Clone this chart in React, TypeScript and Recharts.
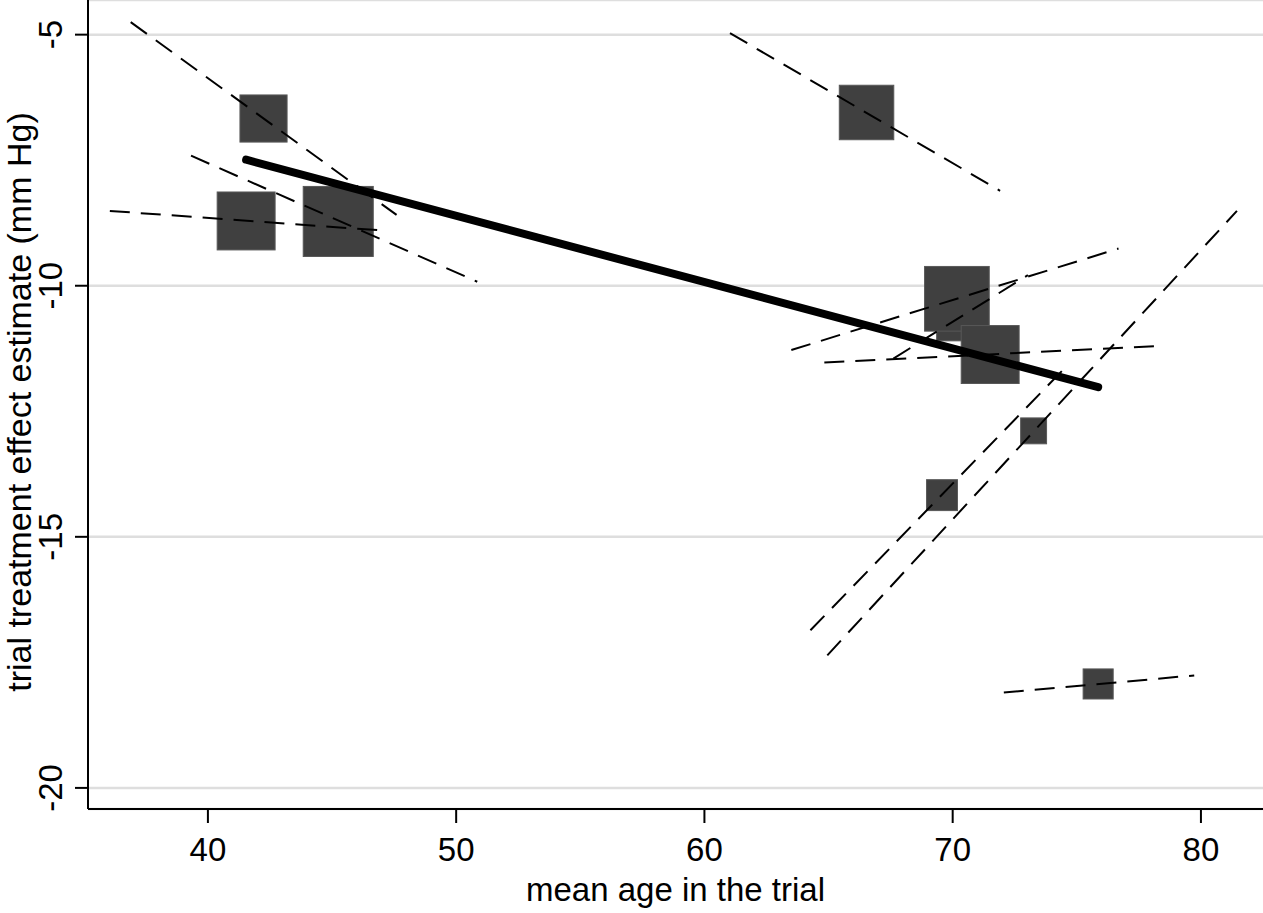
import {
  ScatterChart,
  Scatter,
  XAxis,
  YAxis,
  ZAxis,
  CartesianGrid,
  Label,
} from 'recharts'

// one entry per trial: mean age, effect estimate, weight (% of total, drawn as square area)
const trialAge = [42.24, 41.54, 45.25, 66.53, 70.32, 70.17, 71.51, 69.57, 73.26, 75.86]
const trialEffect = [-6.67, -8.71, -8.72, -6.55, -10.62, -10.26, -11.37, -14.17, -12.89, -17.93]
const trialWeight = [8.6, 13.0, 19.0, 11.5, 8.9, 16.2, 13.0, 3.7, 2.6, 3.5]

// within-trial slopes (dashed), start and end of each segment
const slopeAgeFrom = [36.89, 36.05, 39.32, 61.03, 67.61, 63.5, 64.83, 64.27, 64.95, 72.06]
const slopeEffectFrom = [-4.75, -8.51, -7.41, -4.97, -11.45, -11.28, -11.53, -16.86, -17.36, -18.1]
const slopeAgeTo = [47.6, 47.04, 50.85, 71.91, 73.03, 76.68, 78.27, 74.63, 81.45, 79.73]
const slopeEffectTo = [-8.59, -8.9, -9.92, -8.11, -9.79, -9.26, -11.2, -11.58, -8.51, -17.76]

// across-trial meta-regression line
const regressionAge = [41.54, 75.86]
const regressionEffect = [-7.49, -12.02]

const xTicks = [40, 50, 60, 70, 80]
const yTicks = [-20, -15, -10, -5]

const FONT = '"Liberation Sans", Arial, Helvetica, sans-serif'

const trials = trialAge.map((age, i) => ({
  age,
  effect: trialEffect[i],
  weight: trialWeight[i],
}))

const slopes = slopeAgeFrom.map((a, i) => [
  { age: a, effect: slopeEffectFrom[i] },
  { age: slopeAgeTo[i], effect: slopeEffectTo[i] },
])

const regression = regressionAge.map((age, i) => ({ age, effect: regressionEffect[i] }))

function TrialSquare(props: any) {
  const { cx, cy, width, size } = props
  const side = width ?? 2 * Math.sqrt(size / Math.PI)
  return (
    <rect
      x={cx - side / 2}
      y={cy - side / 2}
      width={side}
      height={side}
      fill="#404040"
      stroke="#585858"
      strokeWidth={1}
    />
  )
}

function NoPoint() {
  return <g />
}

function XTick({ x, y, payload }: any) {
  return (
    <text x={x} y={y} dy={38} textAnchor="middle" fontFamily={FONT} fontSize={33} fill="#000">
      {payload.value}
    </text>
  )
}

function YTick({ x, y, payload }: any) {
  const bx = x - 13
  return (
    <text
      x={bx}
      y={y}
      transform={`rotate(-90, ${bx}, ${y})`}
      textAnchor="middle"
      fontFamily={FONT}
      fontSize={33}
      fill="#000"
    >
      {payload.value}
    </text>
  )
}

function XTitle({ viewBox }: any) {
  const cx = viewBox ? viewBox.x + viewBox.width / 2 : 675
  return (
    <text x={cx} y={901} textAnchor="middle" fontFamily={FONT} fontSize={33} fill="#000">
      mean age in the trial
    </text>
  )
}

function YTitle() {
  const cy = 402
  return (
    <text
      x={31}
      y={cy}
      transform={`rotate(-90, 31, ${cy})`}
      textAnchor="middle"
      fontFamily={FONT}
      fontSize={34}
      fill="#000"
    >
      trial treatment effect estimate (mm Hg)
    </text>
  )
}

export default function App() {
  return (
    <div style={{ position: 'absolute', left: 0, top: 0, background: '#fff' }}>
      <ScatterChart width={1263} height={913} margin={{ top: 0, right: 0, bottom: 0, left: 0 }}>
        <CartesianGrid vertical={false} stroke="#dedede" strokeWidth={2.5} />
        <XAxis
          type="number"
          dataKey="age"
          domain={[35.17, 82.5]}
          ticks={xTicks}
          allowDataOverflow
          height={104}
          tickSize={14}
          tickMargin={0}
          tick={<XTick />}
          axisLine={{ stroke: '#000', strokeWidth: 2 }}
          tickLine={{ stroke: '#000', strokeWidth: 2 }}
        >
          <Label content={<XTitle />} />
        </XAxis>
        <YAxis
          type="number"
          dataKey="effect"
          domain={[-20.42, -4.31]}
          ticks={yTicks}
          allowDataOverflow
          width={88}
          tickSize={13}
          tickMargin={0}
          tick={<YTick />}
          axisLine={{ stroke: '#000', strokeWidth: 2 }}
          tickLine={{ stroke: '#000', strokeWidth: 2 }}
        >
          <Label content={<YTitle />} />
        </YAxis>
        <ZAxis type="number" dataKey="weight" domain={[0, 20]} range={[0, 4056]} />
        <Scatter data={trials} shape={<TrialSquare />} isAnimationActive={false} />
        {slopes.map((seg, i) => (
          <Scatter
            key={i}
            data={seg}
            shape={<NoPoint />}
            line={{ stroke: '#000', strokeWidth: 2, strokeDasharray: '20 11' }}
            lineType="joint"
            isAnimationActive={false}
          />
        ))}
        <Scatter
          data={regression}
          shape={<NoPoint />}
          line={{ stroke: '#000', strokeWidth: 8, strokeLinecap: 'round' }}
          lineType="joint"
          isAnimationActive={false}
        />
      </ScatterChart>
    </div>
  )
}
